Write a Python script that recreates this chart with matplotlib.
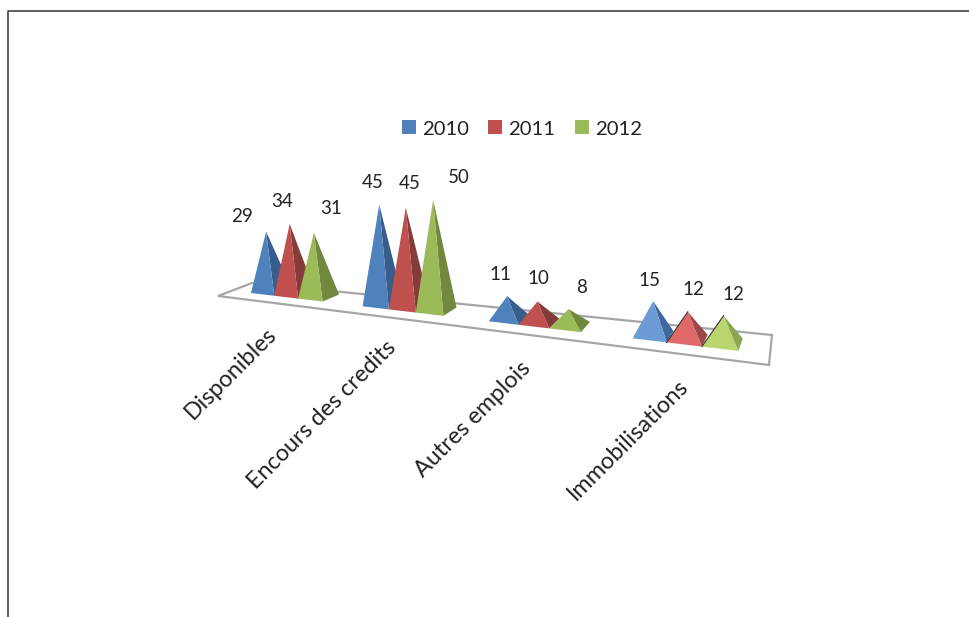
import numpy as np
import matplotlib
matplotlib.use('Agg')
import matplotlib.pyplot as plt
from matplotlib.patches import Patch, Polygon

plt.rcParams['font.family'] = ['Lato', 'DejaVu Sans']

categories = ['Disponibles', 'Encours des credits', 'Autres emplois', 'Immobilisations']
years = ['2010', '2011', '2012']
values_2010 = [29, 45, 11, 15]
values_2011 = [34, 45, 10, 12]
values_2012 = [31, 50, 8, 12]
series = [values_2010, values_2011, values_2012]

# face colours, lit side then shaded side
face_colors = ['#4f81bd', '#c0504d', '#9bbb59']
side_colors = ['#385d8a', '#843c3a', '#71893f']
# the last group is drawn in a lighter tint
light_face = ['#6c9bd6', '#df6868', '#b9d56f']
light_side = ['#3f699c', '#9c4a48', '#8aa650']

# floor corners in pixels: front left, front right, back right, back left
floor = np.array([[218, 296], [769, 365], [772, 335], [252, 283]], dtype=float)

# line the pyramid bases stand on, and how the depth direction turns along it
front_a = np.array([251.0, 293.0])
front_b = np.array([798.0, 358.0])
depth_a = np.array([18.5, -6.0])
depth_b = np.array([3.0, -13.0])
persp = 1.3

# pixels per unit of value in each group, larger towards the viewer
height_scale = [2.06, 2.21, 2.03, 2.25]


def project(u, v):
    # u runs along the categories, v from the front of a base to its back
    t = u / (u + persp * (1 - u))
    return front_a + t * (front_b - front_a) + v * (depth_a + t * (depth_b - depth_a))


fig = plt.figure(figsize=(9.7, 6.17), dpi=100)
ax = fig.add_axes([0, 0, 1, 1])
ax.set_xlim(0, 970)
ax.set_ylim(617, 0)
ax.axis('off')

# page frame, open at the right and bottom
ax.plot([8, 8, 970], [617, 11, 11], color='#333333', lw=1.1)

ax.add_patch(Polygon(floor, closed=True, fill=False, edgecolor='#a6a6a6', lw=1.6))

slot = 0.25
base_w = slot * 0.655 / 3

# data label offsets from each apex (pixels)
label_dx = [[-24, -8, 17], [-7, 4, 26], [-7, 1, 13], [-4, 6, 10]]
label_dy = [[-15, -22, -24], [-22, -24, -22], [-22, -23, -22], [-21, -22, -21]]

for g in range(len(categories)):
    for s in range(len(years)):
        val = series[s][g]
        u0 = g * slot + s * base_w
        u1 = u0 + base_w
        um = (u0 + u1) / 2
        fl = project(u0, 0)
        fr = project(u1, 0)
        br = project(u1, 1)
        centre = project(um, 0.5)
        apex_x = (fl[0] + fr[0]) / 2 + 3.5
        apex_y = centre[1] - val * height_scale[g]
        apex = np.array([apex_x, apex_y])
        fc = light_face[s] if g == 3 else face_colors[s]
        sc = light_side[s] if g == 3 else side_colors[s]
        ax.add_patch(Polygon([apex, fr, br], closed=True, facecolor=sc, edgecolor='none', zorder=3))
        ax.add_patch(Polygon([apex, fl, fr], closed=True, facecolor=fc, edgecolor='none', zorder=3))
        if g == 3 and s > 0:
            ax.plot([apex[0], fl[0]], [apex[1], fl[1]], color='#333333', lw=0.8, zorder=3)
        ax.text(apex[0] + label_dx[g][s], apex[1] + label_dy[g][s], str(val), fontsize=13.5,
                color='#222222', ha='center', va='center', zorder=4)

# category labels end just under the floor, rotated 45 degrees
label_ends = [(266, 323), (385, 337), (520, 358), (677, 375)]
for name, (x, y) in zip(categories, label_ends):
    ax.text(x, y, name, rotation=45, rotation_mode='anchor', ha='right', va='top',
            fontsize=16.8, color='#222222')

handles = [Patch(facecolor=c, edgecolor='none') for c in face_colors]
ax.legend(handles, years, loc='center', bbox_to_anchor=(522 / 970, 1 - 129 / 617), ncol=3,
          frameon=False, fontsize=14.6, handlelength=0.69, handleheight=0.69,
          handletextpad=0.3, columnspacing=0.94, labelcolor='#222222')

fig.savefig('out.png', dpi=100)
